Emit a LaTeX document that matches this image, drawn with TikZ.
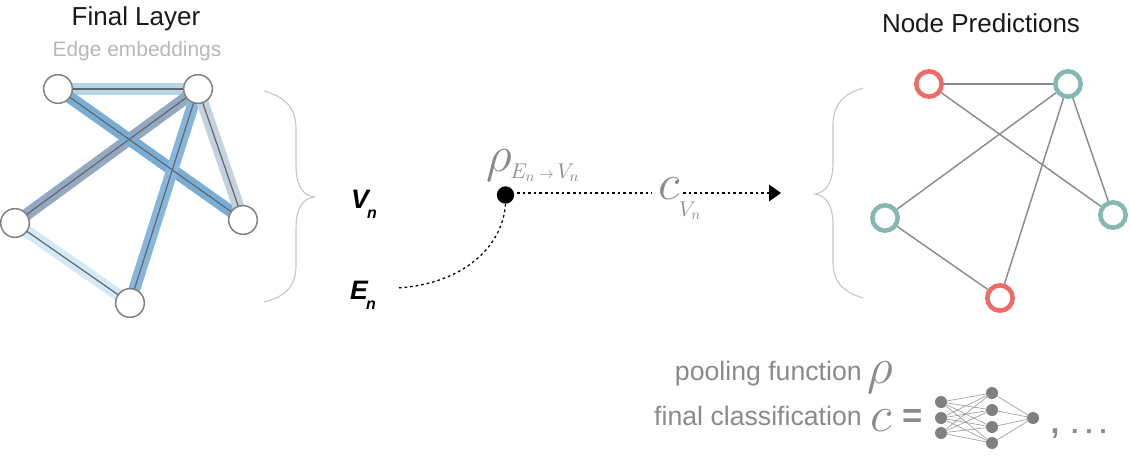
\documentclass[tikz,border=0pt]{standalone}
\usepackage{fix-cm}
\usepackage{fontspec}
\setmainfont{Liberation Sans}
\usepackage{amsmath,amssymb}
\usetikzlibrary{positioning,arrows.meta,backgrounds}
\definecolor{predred}{HTML}{EE6B66}
\definecolor{predteal}{HTML}{85B8B3}
\definecolor{haloab}{HTML}{B5D5EC}
\definecolor{haload}{HTML}{78AED6}
\definecolor{halobc}{HTML}{93A9C3}
\definecolor{halobe}{HTML}{86B6DC}
\definecolor{halobd}{HTML}{C3D2DE}
\definecolor{haloce}{HTML}{D3E9F8}
\definecolor{bracegrey}{HTML}{C4C4C4}
\definecolor{notegrey}{HTML}{8A8A8A}
\tikzset{
  vertex/.style={circle,draw=black!50,line width=1.1pt,fill=white,minimum size=21.5pt,inner sep=0pt},
  pred/.style={circle,line width=3.4pt,fill=white,minimum size=19pt,inner sep=0pt},
  halo/.style={line width=9pt},
  link/.style={draw=black!60,line width=.9pt},
  predlink/.style={draw=black!45,line width=1.1pt},
  curly/.style={draw=bracegrey,line width=.8pt},
  flow/.style={black,line width=.95pt,dash pattern=on 2pt off 2.2pt},
  heading/.style={font=\fontsize{19.5}{22}\selectfont,text=black!90,inner sep=0pt},
  note/.style={font=\fontsize{15.7}{18}\selectfont,text=notegrey,inner sep=0pt},
  legend/.style={font=\fontsize{20}{22}\selectfont,text=notegrey,inner sep=0pt,anchor=east},
  unit/.style={circle,fill=black!50,minimum size=9pt,inner sep=0pt},
  wire/.style={draw=black!38,line width=.5pt},
  mathgrey/.style={text=notegrey,inner sep=0pt},
  bigmath/.style={mathgrey,font=\fontsize{38}{38}\selectfont},
  submath/.style={mathgrey,font=\fontsize{16}{16}\selectfont},
  sans/.style={font=\fontsize{20}{22}\selectfont\bfseries\itshape,inner sep=0pt},
  sanssub/.style={font=\fontsize{12}{12}\selectfont\bfseries\itshape,inner sep=0pt},
}
\begin{document}
\begin{tikzpicture}[x=.75pt,y=-.75pt]
\useasboundingbox (0,0) rectangle (1130,456);
% left graph
\node (title) [heading] at (136,19) {Final Layer};
\node (sub) [note,text=black!28] at (137,51) {Edge embeddings};
\node (a) [vertex] at (58,89) {};
\node (b) [vertex] at (198,89) {};
\node (c) [vertex] at (15,223) {};
\node (d) [vertex] at (243,220) {};
\node (e) [vertex] at (130,303) {};
\begin{scope}[on background layer]
\foreach \u/\v/\col in {a/b/haloab,b/c/halobc,a/d/haload,b/e/halobe,b/d/halobd,c/e/haloce}
  \draw[halo,draw=\col] (\u.center) -- (\v.center);
\foreach \u/\v in {a/b,a/d,b/c,b/e,b/d,c/e}
  \draw[link] (\u.center) -- (\v.center);
\end{scope}
% left brace
\coordinate (ltop) at (264,91);
\coordinate (lbot) at (264,302);
\coordinate (ltip) at (314,197);
\draw[curly] (ltop) .. controls (285,97) and (296,108) .. (296,128) -- (296,165)
  .. controls (296,185) and (302,195) .. (ltip) .. controls (302,199) and (296,209) .. (296,229)
  -- (296,266) .. controls (296,286) and (285,297) .. (lbot);
% flow
\node (vn) [sans] at (360,199) {V};
\node (vnsub) [sanssub] at (372,214) {n};
\node (en) [sans] at (359,290) {E};
\node (ensub) [sanssub] at (371,305) {n};
\node (pool) [circle,fill=black,minimum size=13pt,inner sep=0pt] at (505.5,195) {};
\node (rho) [bigmath] at (499,166) {$\rho$};
\node (rhosub) [submath,anchor=west] at (510,173) {$E_{n}\,{\scriptstyle\rightarrow}\,V_{n}$};
\node (cls) [bigmath] at (669,189) {$c$};
\node (clssub) [submath] at (690,211) {$V_{n}$};
\coordinate (estart) at (397,288);
\coordinate (gapin) at (652,193);
\coordinate (gapout) at (683,193);
\coordinate (tip) at (781,193);
\draw[flow] (pool.south) .. controls (503,245) and (465,284) .. (estart);
\draw[flow] (517,193) -- (gapin);
\draw[flow,-{Triangle[length=9pt,width=12.5pt,sep=0pt]}] (gapout) -- (tip);
% right brace
\coordinate (rtop) at (863,88);
\coordinate (rbot) at (863,298);
\coordinate (rtip) at (815,194);
\draw[curly] (rtop) .. controls (843,94) and (833,105) .. (833,125) -- (833,162)
  .. controls (833,182) and (827,192) .. (rtip) .. controls (827,196) and (833,206) .. (833,226)
  -- (833,262) .. controls (833,282) and (843,292) .. (rbot);
% right graph
\node (title2) [heading] at (981,23) {Node Predictions};
\node (pa) [pred,draw=predred] at (929,84) {};
\node (pb) [pred,draw=predteal] at (1068,84) {};
\node (pc) [pred,draw=predteal] at (885,218) {};
\node (pd) [pred,draw=predteal] at (1113,215) {};
\node (pe) [pred,draw=predred] at (1000,298) {};
\begin{scope}[on background layer]
\foreach \u/\v in {pa/pb,pa/pd,pb/pc,pb/pe,pb/pd,pc/pe}
  \draw[predlink] (\u) -- (\v);
\end{scope}
% legend
\node (lpool) [legend] at (862,374) {pooling function};
\node (lrho) [bigmath] at (880,378) {$\rho$};
\node (lfinal) [legend] at (862,416) {final classification};
\node (lc) [bigmath] at (881,421) {$c$};
\node (leq) [mathgrey,font=\fontsize{26}{26}\selectfont\bfseries] at (913,418) {=};
\foreach \i/\y in {1/402,2/418,3/433}
  \node (in\i) [unit] at (941,\y) {};
\foreach \i/\y in {1/393,2/410,3/427,4/443}
  \node (hid\i) [unit] at (992,\y) {};
\node (out) [unit] at (1033,418) {};
\begin{scope}[on background layer]
\foreach \i in {1,2,3}
  \foreach \j in {1,2,3,4}
    \draw[wire] (in\i) -- (hid\j);
\foreach \j in {1,2,3,4}
  \draw[wire] (hid\j) -- (out);
\end{scope}
\node (comma) [mathgrey,font=\fontsize{24}{24}\selectfont\bfseries,anchor=base] at (1055,433) {,};
\node (dots) [mathgrey,font=\fontsize{20}{20}\selectfont\bfseries,anchor=base] at (1089,433) {.\kern5pt.\kern5pt.};
\end{tikzpicture}
\end{document}
